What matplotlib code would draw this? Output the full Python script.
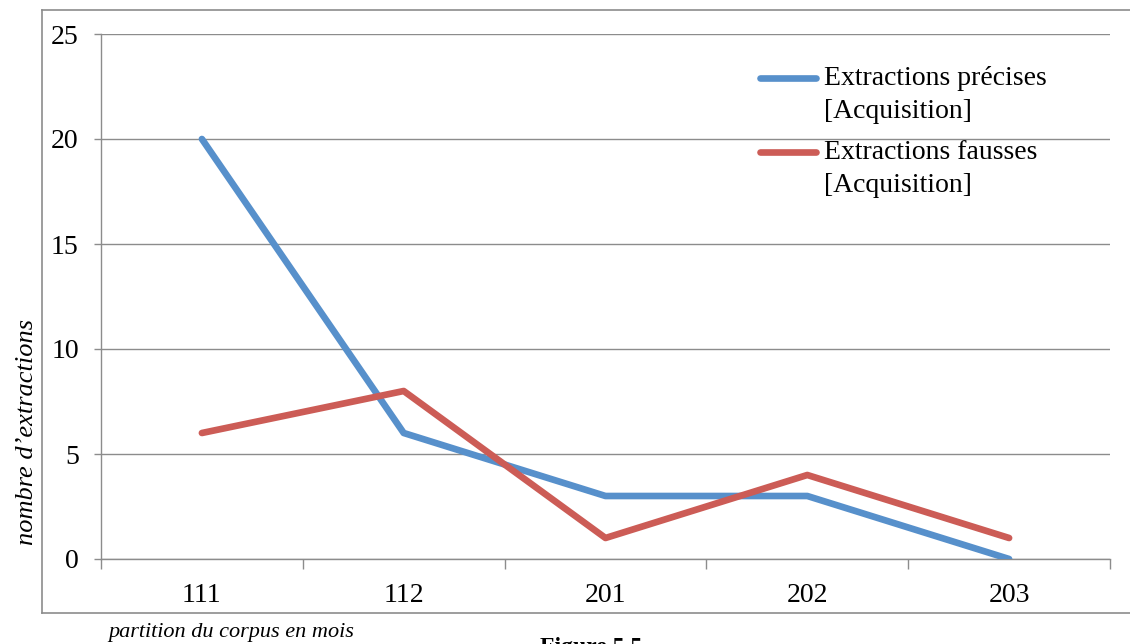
import matplotlib.pyplot as plt
from matplotlib.lines import Line2D
import numpy as np

# =============================================================================
# Data
# =============================================================================

partitions = ['111', '112', '201', '202', '203']
precises = [20, 6, 3, 3, 0]
fausses = [6, 8, 1, 4, 1]
labels = ['Extractions précises\n[Acquisition]', 'Extractions fausses\n[Acquisition]']
yticks = [0, 5, 10, 15, 20, 25]

# =============================================================================
# Plot
# =============================================================================

plt.rcParams['font.family'] = ['Liberation Serif', 'DejaVu Serif']
grey = '#8c8c8c'
blue = '#5790CB'
red = '#CC5C56'
fs = 20

W, H = 1130, 644
fig = plt.figure(figsize=(W / 100, H / 100), dpi=100)
ax = fig.add_axes([101 / W, 1 - 559 / H, (1110 - 101) / W, (559 - 34) / H])

x = np.arange(len(partitions))
ax.plot(x, precises, color=blue, lw=4.8, solid_capstyle='round',
        solid_joinstyle='round', label=labels[0], zorder=3)
ax.plot(x, fausses, color=red, lw=4.8, solid_capstyle='round',
        solid_joinstyle='round', label=labels[1], zorder=3)

ax.set_xlim(-0.5, len(partitions) - 0.5)
ax.set_ylim(0, 25)
ax.set_yticks(yticks)
ax.yaxis.grid(True, color=grey, lw=1)
ax.set_axisbelow(True)

ax.set_xticks(x)
ax.set_xticklabels(partitions, fontsize=fs)
ax.set_xticks(np.arange(-0.5, len(partitions)), minor=True)
ax.tick_params(axis='x', which='major', length=0, pad=17)
ax.tick_params(axis='x', which='minor', length=7, color=grey, width=1)
ax.tick_params(axis='y', length=5, color=grey, width=1, labelsize=fs, pad=11)

for s in ['top', 'right']:
    ax.spines[s].set_visible(False)
for s in ['left', 'bottom']:
    ax.spines[s].set_color(grey)
    ax.spines[s].set_linewidth(1)

leg = ax.legend(loc='upper left', bbox_to_anchor=(760 / W, 1 - 66 / H),
                bbox_transform=fig.transFigure, frameon=False, fontsize=fs,
                handlelength=2.0, handletextpad=0.3, labelspacing=0.6,
                borderaxespad=0, borderpad=0)
for t in leg.get_texts():
    t.set_linespacing(1.4)
for ln in leg.get_lines():
    ln.set_linewidth(4.8)
fig.canvas.draw()
for ln in leg.get_lines():
    ln.set_ydata(np.array(ln.get_ydata()) + 0.6 * fs)

# outer chart frame
fig.add_artist(Line2D([42 / W, 42 / W], [1 - 10 / H, 1 - 613 / H], color=grey, lw=1.2))
fig.add_artist(Line2D([42 / W, 1], [1 - 10 / H, 1 - 10 / H], color=grey, lw=1.2))
fig.add_artist(Line2D([42 / W, 1], [1 - 613 / H, 1 - 613 / H], color=grey, lw=1.2))

fig.text(27 / W, 1 - 432 / H, 'nombre d’extractions', rotation=90, style='italic',
         fontsize=19, ha='center', va='center')
fig.text(108 / W, 1 - 633 / H, 'partition du corpus en mois', style='italic',
         fontsize=16, ha='left', va='center')
fig.text(540 / W, 1 - 637 / H, 'Figure 5.5', fontweight='bold',
         fontsize=17, ha='left', va='top')

plt.savefig('out.png', dpi=100)
